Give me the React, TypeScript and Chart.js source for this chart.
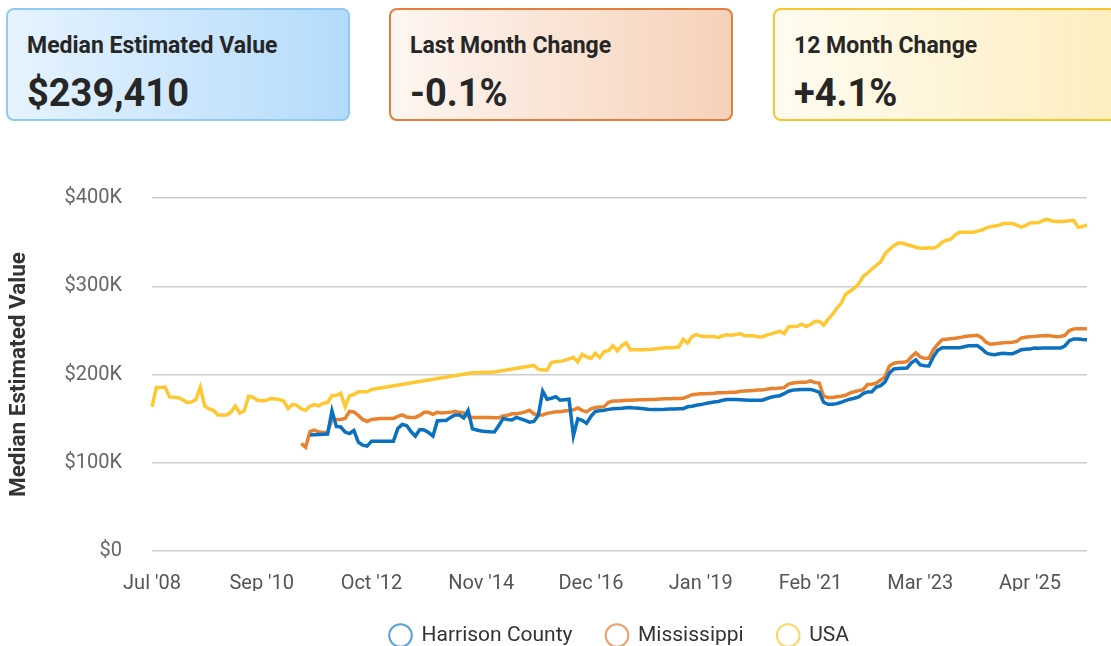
import React, { useEffect, useRef } from "react";
import { Chart, registerables } from "chart.js";

Chart.register(...registerables);

// ---- categories (monthly, Jul '08 .. May '26, one month missing in 2009) ----
const MONTHS = ["Jan", "Feb", "Mar", "Apr", "May", "Jun", "Jul", "Aug", "Sep", "Oct", "Nov", "Dec"];
const FIRST_MONTH = { year: 2008, month: 6 };
const LAST_MONTH = { year: 2026, month: 4 };
const MISSING_MONTHS = ["Dec '09"];
const TICK_EVERY = 25;

function buildCategories(): string[] {
  const out: string[] = [];
  let y = FIRST_MONTH.year;
  let m = FIRST_MONTH.month;
  while (y < LAST_MONTH.year || (y === LAST_MONTH.year && m <= LAST_MONTH.month)) {
    const lbl = `${MONTHS[m]} '${String(y % 100).padStart(2, "0")}`;
    if (!MISSING_MONTHS.includes(lbl)) out.push(lbl);
    m++;
    if (m > 11) { m = 0; y++; }
  }
  return out;
}
const CATEGORIES = buildCategories();

// ---- series values, in $K ----
const USA_K: (number | null)[] = [
  163.4, 185.4, 185.4, 185.7, 174.6, 174.3, 173.7, 171.4, 168.2, 168.9,
  171.6, 185.7, 164.5, 161.1, 159.4, 154.2, 154.2, 154.2, 157.4, 164.2,
  156.3, 158.8, 175.4, 174.3, 170.8, 170.3, 170.8, 172.8, 172.2, 171.6,
  170.0, 161.3, 166.2, 165.1, 161.1, 159.4, 164.0, 165.9, 164.5, 167.4,
  168.2, 176.0, 176.5, 178.8, 163.4, 176.0, 177.3, 180.5, 180.5, 180.5,
  183.0, null, null, null, null, null, null, null, null, null,
  null, null, null, null, null, null, null, null, null, null,
  null, null, null, 202.0, null, null, null, null, 202.9, null,
  null, null, null, null, null, null, null, 210.3, 206.0, 205.1,
  205.1, 213.5, 214.6, 214.9, 216.0, 217.7, 219.5, 214.3, 222.9, 220.0,
  218.3, 224.0, 219.1, 226.0, 226.9, 232.6, 226.9, 232.6, 236.0, 228.0,
  228.0, 228.0, 228.0, 228.4, 228.6, 229.2, 229.7, 230.3, 230.3, 230.7,
  231.1, 240.0, 235.5, 242.9, 245.2, 243.5, 243.2, 243.2, 243.2, 241.8,
  244.0, 244.9, 244.6, 245.2, 246.3, 244.0, 244.0, 244.0, 242.9, 242.6,
  244.6, 246.0, 247.5, 249.0, 246.3, 254.0, 254.3, 254.7, 257.0, 254.3,
  256.6, 260.0, 260.4, 256.0, 262.4, 268.1, 275.0, 280.7, 291.0, 294.4,
  297.8, 303.0, 311.0, 315.0, 319.6, 323.6, 327.6, 336.7, 341.9, 345.9,
  349.0, 348.7, 347.0, 345.9, 344.2, 343.0, 343.0, 343.6, 343.0, 345.3,
  349.9, 352.2, 353.3, 358.5, 361.3, 361.3, 361.3, 361.3, 362.5, 363.6,
  365.9, 367.6, 368.2, 369.3, 371.0, 371.0, 371.0, 369.3, 367.0, 368.7,
  371.6, 371.9, 372.2, 374.5, 375.9, 373.9, 373.3, 373.3, 373.7, 374.1,
  374.5, 366.7, 367.6, 369.6,
];

const MISSISSIPPI_START = 34;
const MISSISSIPPI_K: number[] = [
  121.6, 117.6, 135.4, 137.1, 134.8, 134.2, 134.2, 149.1, 149.1, 149.1,
  150.2, 158.2, 157.7, 153.7, 149.1, 146.8, 149.1, 149.7, 150.2, 150.2,
  150.2, 150.2, 152.5, 154.2, 151.9, 151.4, 151.4, 153.7, 157.1, 157.1,
  154.8, 157.1, 156.5, 156.8, 157.1, 158.2, 157.1, 156.5, 152.5, 151.4,
  151.4, 151.4, 151.4, 151.4, 151.0, 151.0, 153.1, 153.7, 155.4, 155.6,
  156.3, 157.7, 159.4, 155.4, 154.2, 154.2, 156.0, 156.8, 157.7, 157.7,
  158.6, 159.1, 160.0, 162.2, 159.4, 157.7, 161.1, 162.5, 163.1, 163.6,
  168.5, 169.9, 169.9, 170.3, 170.8, 170.8, 171.1, 171.4, 171.4, 171.6,
  171.7, 172.0, 172.2, 172.4, 172.5, 172.8, 172.9, 173.1, 174.8, 177.1,
  177.7, 178.3, 178.3, 178.6, 178.8, 179.2, 179.4, 179.5, 179.8, 180.0,
  181.1, 181.3, 181.7, 181.9, 182.3, 182.3, 183.4, 184.0, 184.0, 184.6,
  185.1, 189.1, 190.3, 190.8, 191.1, 191.1, 192.9, 190.8, 190.3, 175.4,
  173.9, 173.9, 174.8, 175.4, 176.5, 178.8, 180.5, 181.7, 182.8, 188.8,
  188.9, 190.3, 193.7, 197.7, 209.7, 212.8, 213.5, 214.0, 214.6, 220.0,
  224.6, 220.0, 218.3, 218.3, 228.0, 234.3, 239.5, 240.0, 240.6, 241.2,
  241.8, 242.9, 243.5, 244.0, 244.4, 241.8, 236.6, 234.3, 234.9, 235.5,
  236.0, 236.4, 236.6, 237.5, 241.2, 242.3, 242.9, 243.2, 243.7, 244.0,
  244.3, 243.5, 242.9, 243.1, 244.6, 249.8, 251.7, 251.8, 251.8, 251.7,
];

const HARRISON_START = 36;
const HARRISON_K: number[] = [
  131.4, 131.6, 131.9, 132.2, 132.5, 158.8, 141.1, 140.5, 134.8, 133.1,
  136.5, 123.3, 119.9, 118.8, 124.5, 124.5, 124.5, 124.5, 124.5, 124.5,
  138.8, 143.4, 142.2, 135.4, 130.2, 137.6, 137.1, 134.2, 130.2, 147.4,
  147.9, 147.9, 151.4, 154.2, 154.2, 150.8, 159.4, 138.4, 137.1, 135.9,
  135.4, 135.0, 134.8, 142.2, 150.2, 149.1, 148.5, 151.4, 149.7, 148.0,
  146.0, 146.8, 153.7, 181.1, 172.0, 173.1, 174.8, 170.8, 171.4, 172.0,
  130.5, 149.9, 148.0, 144.6, 152.6, 158.2, 158.8, 159.4, 160.5, 161.1,
  161.4, 161.7, 162.2, 162.5, 161.9, 161.7, 161.1, 160.5, 160.2, 160.2,
  160.2, 160.5, 160.8, 161.0, 161.2, 161.3, 163.4, 164.0, 165.1, 165.9,
  167.0, 168.0, 168.9, 169.5, 170.8, 171.6, 171.6, 171.6, 171.4, 171.2,
  170.8, 170.8, 170.8, 170.8, 172.5, 174.3, 175.4, 176.0, 178.3, 181.1,
  182.3, 182.8, 183.1, 183.1, 183.1, 181.7, 180.0, 168.5, 166.2, 166.2,
  167.0, 168.5, 170.3, 172.0, 173.1, 174.6, 178.3, 180.3, 180.5, 185.7,
  187.4, 191.7, 201.7, 206.3, 206.9, 207.1, 207.4, 213.2, 216.6, 210.9,
  210.0, 209.7, 220.0, 227.5, 230.3, 230.3, 230.3, 230.3, 230.3, 231.5,
  232.6, 232.6, 232.8, 229.2, 224.6, 222.9, 222.3, 223.5, 224.0, 223.5,
  223.5, 225.7, 228.0, 228.6, 228.8, 229.9, 229.7, 230.0, 230.0, 230.0,
  230.0, 230.0, 232.6, 238.3, 240.3, 240.3, 239.7, 239.41,
];

const SERIES_NAMES = ["Harrison County", "Mississippi", "USA"];
const LINE_COLORS = ["#0a70c0", "#e8822f", "#ffc832"];
const LEGEND_STROKES = ["#58a2dc", "#eca068", "#fcd769"];

const Y_TICKS_K = [0, 100, 200, 300, 400];

const CARD_TITLES = ["Median Estimated Value", "Last Month Change", "12 Month Change"];
const CARD_VALUES = ["$239,410", "-0.1%", "+4.1%"];
const CARD_STYLES = [
  { border: "#8fcaf5", from: "#e6f3fe", to: "#b4dbfb" },
  { border: "#e57e3c", from: "#fdf6f1", to: "#f6d1b9" },
  { border: "#f8c52a", from: "#fffbf1", to: "#fdeebf" },
];
const CARD_LEFTS = [6, 389, 773];

function padSeries(start: number, vals: number[]): (number | null)[] {
  const out: (number | null)[] = [];
  for (let i = 0; i < CATEGORIES.length; i++) {
    const j = i - start;
    out.push(j >= 0 && j < vals.length ? vals[j] * 1000 : null);
  }
  return out;
}

const FONT = "Roboto, 'Noto Sans', sans-serif";

function Card({ idx }: { idx: number }) {
  const s = CARD_STYLES[idx];
  return (
    <div
      style={{
        position: "absolute",
        left: CARD_LEFTS[idx],
        top: 8,
        width: 344,
        height: 113,
        boxSizing: "border-box",
        border: `2px solid ${s.border}`,
        borderRadius: 8,
        background: `linear-gradient(to right, ${s.from}, ${s.to})`,
        fontFamily: FONT,
        color: "#262626",
      }}
    >
      <div style={{ position: "absolute", left: 19, top: 22, fontSize: 23, lineHeight: "27px", fontWeight: 700, whiteSpace: "nowrap" }}>
        {CARD_TITLES[idx]}
      </div>
      <div style={{ position: "absolute", left: 19, top: 61, fontSize: 38, lineHeight: "45px", fontWeight: 700, whiteSpace: "nowrap" }}>
        {CARD_VALUES[idx]}
      </div>
    </div>
  );
}

export default function App() {
  const canvasRef = useRef<HTMLCanvasElement | null>(null);

  useEffect(() => {
    if (!canvasRef.current) return;
    const usa = USA_K.map((v) => (v === null ? null : v * 1000));
    const ms = padSeries(MISSISSIPPI_START, MISSISSIPPI_K);
    const hc = padSeries(HARRISON_START, HARRISON_K);
    const seriesData = [hc, ms, usa];

    const chart = new Chart(canvasRef.current, {
      type: "line",
      data: {
        labels: CATEGORIES,
        datasets: SERIES_NAMES.map((name, i) => ({
          label: name,
          data: seriesData[i],
          borderColor: LINE_COLORS[i],
          backgroundColor: "rgba(255,255,255,0)",
          borderWidth: 3.5,
          pointRadius: 0,
          pointHoverRadius: 0,
          tension: 0,
          spanGaps: true,
          fill: false,
        })),
      },
      options: {
        animation: false,
        responsive: true,
        maintainAspectRatio: false,
        font: { family: FONT },
        layout: { padding: { top: 68, right: 24, left: 6, bottom: 0 } },
        plugins: {
          tooltip: { enabled: false },
          legend: {
            position: "bottom",
            fullSize: false,
            labels: {
              usePointStyle: true,
              pointStyle: "circle",
              boxHeight: 16,
              boxWidth: 21,
              padding: 34,
              color: "#333",
              font: { size: 21, family: FONT },
              generateLabels: (ch: any) => {
                const items = (Chart as any).defaults.plugins.legend.labels.generateLabels(ch);
                return items.map((it: any, i: number) => ({
                  ...it,
                  fillStyle: "rgba(255,255,255,0)",
                  strokeStyle: LEGEND_STROKES[i],
                  lineWidth: 2,
                }));
              },
            },
          },
        },
        scales: {
          x: {
            type: "category",
            grid: { display: false, drawTicks: false, tickLength: 0 },
            border: { display: false },
            ticks: {
              autoSkip: false,
              maxRotation: 0,
              minRotation: 0,
              padding: 21,
              color: "#555",
              font: { size: 20, family: FONT },
              callback: (_v: any, i: number) => (i % TICK_EVERY === 0 ? CATEGORIES[i] : null),
            },
            afterFit: (s: any) => { s.height = 40; },
          },
          y: {
            min: 0,
            max: Y_TICKS_K[Y_TICKS_K.length - 1] * 1000,
            afterBuildTicks: (s: any) => { s.ticks = Y_TICKS_K.map((k) => ({ value: k * 1000 })); },
            grid: { color: "#cdcdcd", lineWidth: 1.5, drawTicks: false, tickLength: 0 },
            border: { display: false },
            ticks: {
              padding: 30,
              color: "#666",
              font: { size: 20, family: FONT },
              callback: (v: any) => (Number(v) === 0 ? "$0" : `$${Number(v) / 1000}K`),
            },
            title: {
              display: true,
              text: "Median Estimated Value",
              color: "#333",
              font: { size: 22.5, weight: "bold", family: FONT },
              padding: { top: 0, bottom: 0 },
            },
            afterFit: (s: any) => { s.width = 146; },
          },
        },
      } as any,
    });
    return () => chart.destroy();
  }, []);

  return (
    <div style={{ position: "fixed", left: 0, top: 0, width: 1111, height: 646, overflow: "hidden", background: "#fff" }}>
      <Card idx={0} />
      <Card idx={1} />
      <Card idx={2} />
      <div style={{ position: "absolute", left: 0, top: 130, width: 1111, height: 526 }}>
        <canvas ref={canvasRef} />
      </div>
    </div>
  );
}
